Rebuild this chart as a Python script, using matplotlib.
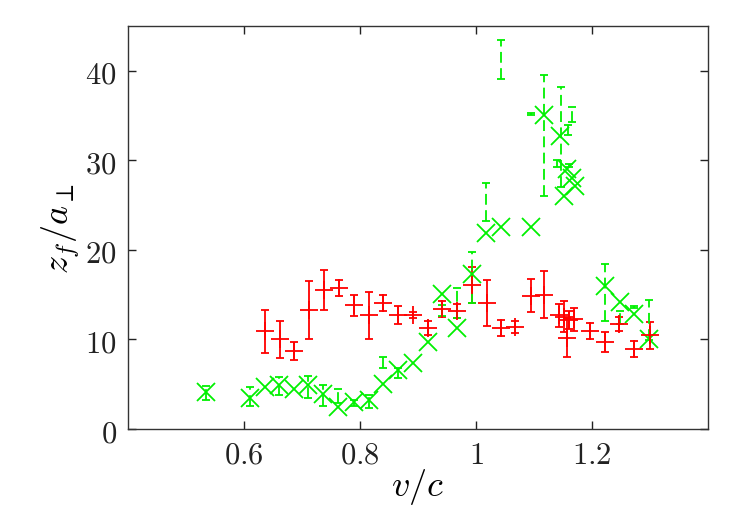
import matplotlib
matplotlib.use("Agg")
import matplotlib.pyplot as plt
import numpy as np

plt.rcParams['mathtext.fontset'] = 'cm'
plt.rcParams['font.family'] = ['DejaVu Serif']

# Red series (+ markers with symmetric error bars)
red_x = [0.637, 0.662, 0.687, 0.713, 0.738, 0.764, 0.789, 0.815, 0.840, 0.866,
         0.892, 0.917, 0.942, 0.967, 0.993, 1.019, 1.043, 1.068, 1.094, 1.118,
         1.143, 1.151, 1.160, 1.169, 1.157, 1.196, 1.222, 1.247, 1.272, 1.299]
red_y = [10.9, 10.0, 8.7, 13.25, 15.5, 15.75, 13.8, 12.7, 14.1, 12.75,
         12.75, 11.25, 13.4, 13.2, 16.1, 14.05, 11.3, 11.4, 14.9, 15.0,
         12.7, 12.55, 12.15, 12.25, 10.2, 10.9, 9.7, 11.75, 8.9, 10.45]
red_err = [2.4, 2.05, 1.0, 3.25, 2.2, 0.9, 1.2, 2.65, 0.9, 1.0,
           0.3, 0.8, 0.9, 0.8, 2.0, 2.6, 0.9, 0.7, 1.8, 2.6,
           1.3, 1.7, 1.0, 1.3, 2.2, 0.9, 1.1, 0.8, 0.9, 1.5]

# Green series markers (x)
green_x = [0.535, 0.611, 0.636, 0.661, 0.686, 0.711, 0.737, 0.763, 0.789, 0.815,
           0.840, 0.866, 0.891, 0.917, 0.942, 0.967, 0.993, 1.018, 1.043, 1.094,
           1.118, 1.144, 1.157, 1.165, 1.171, 1.151, 1.222, 1.248, 1.273, 1.298]
green_y = [4.15, 3.45, 4.75, 4.95, 4.45, 4.95, 3.95, 2.5, 3.0, 3.2,
           5.0, 6.6, 7.4, 9.7, 15.1, 11.3, 17.3, 21.9, 22.6, 22.5,
           35.0, 32.7, 29.0, 28.0, 27.1, 26.0, 16.0, 14.2, 12.8, 10.0]

# Green error bars (separate dashed bars: x, low, high)
gerr_x = [0.535, 0.611, 0.661, 0.711, 0.737, 0.763, 0.789, 0.815, 0.840, 0.866,
          0.942, 0.967, 0.993, 1.018, 1.043, 1.094, 1.118, 1.146, 1.158, 1.165,
          1.140, 1.161, 1.222, 1.248, 1.273, 1.298]
gerr_lo = [3.3, 2.55, 3.85, 3.5, 2.55, 2.9, 2.6, 2.4, 6.85, 5.7,
           12.6, 12.4, 14.1, 23.2, 39.1, 35.0, 26.0, 27.0, 32.8, 34.3,
           29.2, 29.3, 12.1, 11.7, 13.5, 9.9]
gerr_hi = [4.85, 4.65, 5.8, 5.9, 4.95, 4.5, 3.3, 3.85, 8.1, 6.85,
           13.8, 15.8, 19.8, 27.5, 43.4, 35.3, 39.5, 38.2, 33.9, 35.9,
           30.0, 29.6, 18.4, 13.2, 13.7, 14.4]

xticks = [0.6, 0.8, 1.0, 1.2]
xticklabels = ['0.6', '0.8', '1', '1.2']
yticks = [0, 10, 20, 30, 40]
yticklabels = ['0', '10', '20', '30', '40']

RED = '#ff0000'
GREEN = '#00f000'

fig = plt.figure(figsize=(7.47, 5.06), dpi=100)
ax = fig.add_axes([0.171, 0.150, 0.777, 0.797])

ax.errorbar(red_x, red_y, yerr=red_err, fmt='+', ms=13, mew=1.3, color=RED,
            ecolor=RED, elinewidth=1.3, capsize=3, capthick=1.3)

gx = np.array(gerr_x)
lo = np.array(gerr_lo)
hi = np.array(gerr_hi)
mid = (lo + hi) / 2
eb = ax.errorbar(gx, mid, yerr=[mid - lo, hi - mid], fmt='none', ecolor=GREEN,
                 elinewidth=1.3, capsize=3, capthick=1.3)
for lc in eb[2]:
    lc.set_linestyle((0, (6, 3)))

ax.plot(green_x, green_y, 'x', ms=13, mew=1.3, color=GREEN, linestyle='none')

ax.set_xlim(0.4, 1.4)
ax.set_ylim(0, 45)
ax.set_xticks(xticks)
ax.set_xticklabels(['$%s$' % t for t in xticklabels])
ax.set_yticks(yticks)
ax.set_yticklabels(['$%s$' % t for t in yticklabels])
ax.tick_params(direction='in', top=True, right=True, length=6, width=1,
               labelsize=22, colors='#222222')
ax.tick_params(axis='x', pad=7)
ax.tick_params(axis='y', pad=8)
for s in ax.spines.values():
    s.set_linewidth(1.0)
    s.set_color('#333333')

ax.set_xlabel(r'$v/c$', fontsize=26, labelpad=-3)
ax.set_ylabel(r'$z_f/a_\perp$', fontsize=26, labelpad=2)

fig.savefig('out.png', dpi=100)
